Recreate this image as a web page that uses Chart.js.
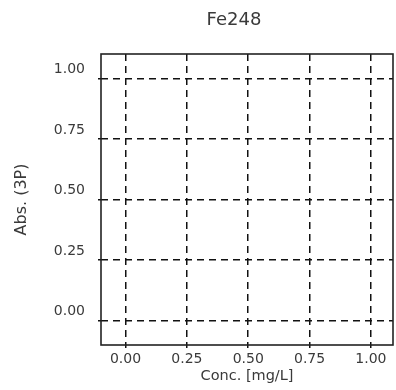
<!DOCTYPE html>
<html>
<head>
<meta charset="utf-8">
<title>Fe248</title>
<script src="https://cdn.jsdelivr.net/npm/chart.js@4/dist/chart.umd.min.js"></script>
<style>
    html, body { margin: 0; padding: 0; background: #fff; }
    #calChart { display: block; }
</style>
</head>
<body>
<canvas id="calChart" width="396" height="390"></canvas>
<script>
// Calibration curve for the Fe 248 nm line (no standards measured yet)
const chartTitle = 'Fe248';
const xAxisTitle = 'Conc. [mg/L]';
const yAxisTitle = 'Abs. (3P)';

const xTickValues = [0, 0.25, 0.5, 0.75, 1.0];
const yTickValues = [0, 0.25, 0.5, 0.75, 1.0];
const xRange = [-0.1, 1.09];
const yRange = [-0.1, 1.1];

const standardConc = [];
const standardAbs = [];

const textColor = '#3a3a3a';
const fontFamily = '"DejaVu Sans", Arial, sans-serif';

// Solid frame around the plot area
const framePlugin = {
    id: 'frame',
    afterDraw(chart) {
        const { ctx, chartArea: a } = chart;
        ctx.save();
        ctx.strokeStyle = '#222';
        ctx.lineWidth = 1.6;
        ctx.strokeRect(a.left, a.top, a.right - a.left, a.bottom - a.top);
        ctx.restore();
    }
};

// Heading sits a little left of the plot centre
const headingPlugin = {
    id: 'heading',
    afterDraw(chart) {
        const ctx = chart.ctx;
        ctx.save();
        ctx.fillStyle = textColor;
        ctx.font = '18px ' + fontFamily;
        ctx.textAlign = 'center';
        ctx.textBaseline = 'middle';
        ctx.fillText(chartTitle, 234, 20);
        ctx.restore();
    }
};

function fixedTicks(values) {
    return scale => { scale.ticks = values.map(v => ({ value: v })); };
}

const gridStyle = {
    color: '#111',
    lineWidth: 1.5,
    drawTicks: true,
    tickLength: 3
};

const config = {
    type: 'scatter',
    data: {
        datasets: [{
            label: 'Standards',
            data: standardConc.map((c, i) => ({ x: c, y: standardAbs[i] })),
            borderColor: '#000',
            backgroundColor: '#000',
            pointRadius: 3
        }]
    },
    options: {
        responsive: false,
        animation: false,
        layout: {
            padding: { top: 54, right: 3, left: 0, bottom: 0 }
        },
        plugins: {
            legend: { display: false },
            tooltip: { enabled: false }
        },
        scales: {
            x: {
                type: 'linear',
                min: xRange[0],
                max: xRange[1],
                afterBuildTicks: fixedTicks(xTickValues),
                afterFit: scale => { scale.height = 45; },
                grid: gridStyle,
                border: { display: false, dash: [7, 5] },
                ticks: {
                    color: textColor,
                    padding: 3,
                    maxRotation: 0,
                    font: { family: fontFamily, size: 14 },
                    callback: value => value.toFixed(2)
                },
                title: {
                    display: true,
                    text: xAxisTitle,
                    color: textColor,
                    font: { family: fontFamily, size: 14.5 },
                    padding: { top: 0, bottom: 5 }
                }
            },
            y: {
                type: 'linear',
                min: yRange[0],
                max: yRange[1],
                afterBuildTicks: fixedTicks(yTickValues),
                afterFit: scale => { scale.width = 101; },
                grid: gridStyle,
                border: { display: false, dash: [7, 5] },
                ticks: {
                    color: textColor,
                    padding: 13,
                    labelOffset: -9,
                    font: { family: fontFamily, size: 14 },
                    callback: value => value.toFixed(2)
                },
                title: {
                    display: true,
                    text: yAxisTitle,
                    color: textColor,
                    font: { family: fontFamily, size: 16 },
                    padding: { top: 12, bottom: 0 }
                }
            }
        }
    },
    plugins: [framePlugin, headingPlugin]
};

new Chart(document.getElementById('calChart'), config);
</script>
</body>
</html>
